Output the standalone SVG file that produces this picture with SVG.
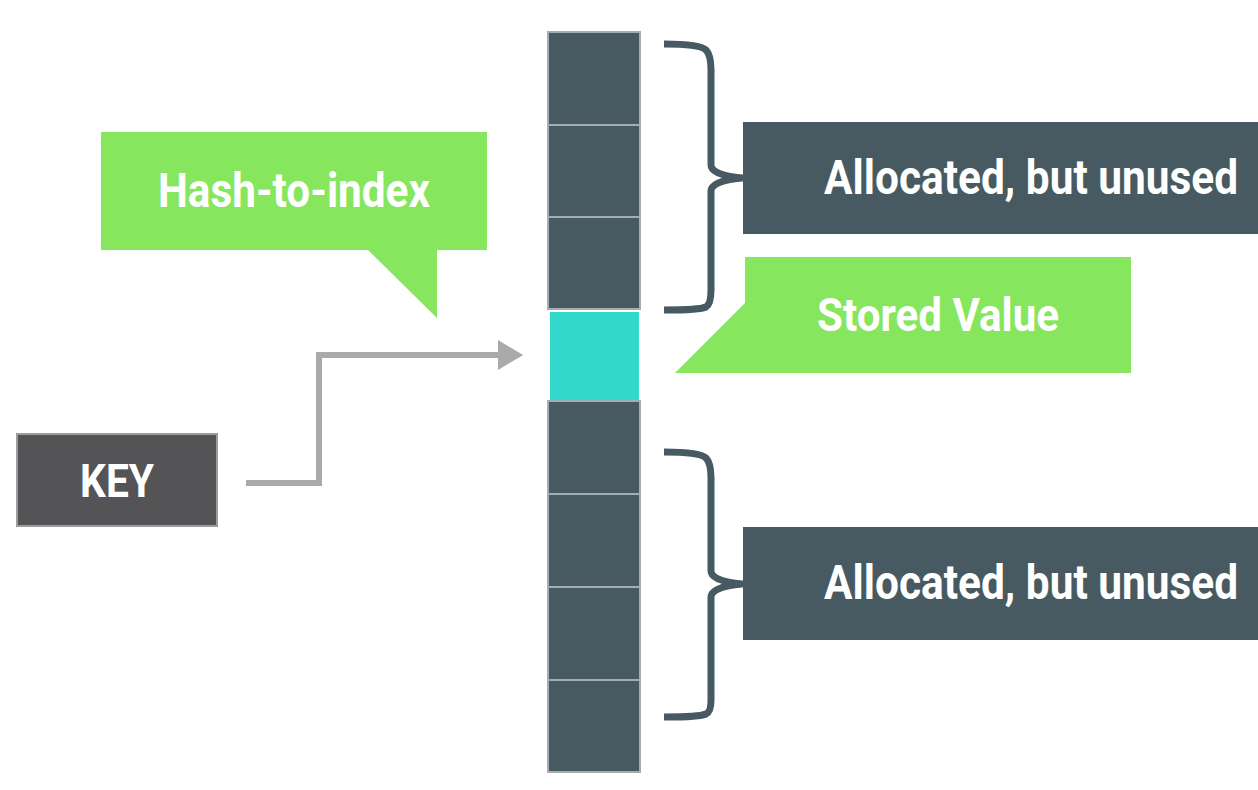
<svg xmlns="http://www.w3.org/2000/svg" width="1258" height="790" viewBox="0 0 1258 790">
<style>
.cell{fill:#475a61;stroke:#a3adb2;stroke-width:2}
.teal{fill:#33d9cb;stroke:#ffffff;stroke-width:2}
.brace{fill:none;stroke:#475a61;stroke-width:7;stroke-linejoin:round}
.lbl{fill:#475a61}
.green{fill:#86e65d}
.t{font-family:Roboto,"Liberation Sans",sans-serif;font-weight:bold;fill:#ffffff}
.conn{fill:none;stroke:#aaaaaa;stroke-width:6}
</style>
<defs>
<marker id="ah" markerWidth="5" markerHeight="5" refX="0" refY="2.5" orient="auto" markerUnits="strokeWidth">
<path d="M0,0 L4.2,2.5 L0,5 Z" fill="#aaaaaa"/>
</marker>
</defs>
<rect width="1258" height="790" fill="#ffffff"/>
<g id="array">
<rect class="cell" x="548" y="32" width="92" height="93"/>
<rect class="cell" x="548" y="125" width="92" height="92"/>
<rect class="cell" x="548" y="217" width="92" height="92"/>
<rect class="teal" x="549" y="311" width="91" height="90"/>
<rect class="cell" x="548" y="401" width="92" height="93"/>
<rect class="cell" x="548" y="494" width="92" height="93"/>
<rect class="cell" x="548" y="587" width="92" height="93"/>
<rect class="cell" x="548" y="680" width="92" height="92"/>
</g>
<g id="brace-top">
<path class="brace" d="M664,44 Q700,44 706,50 Q711,55 711,70 L711,165 Q711,175 742,178 Q711,181 711,191 L711,290 Q711,304 706,307 Q700,310 664,310"/>
</g>
<g id="brace-bottom">
<path class="brace" d="M664,452 Q700,452 706,458 Q711,463 711,478 L711,571 Q711,581 742,584 Q711,587 711,597 L711,700 Q711,712 706,714 Q700,717 664,717"/>
</g>
<g id="label-top">
<rect class="lbl" x="743" y="122" width="515" height="112"/>
<text class="t" transform="translate(824,194) scale(0.87,1)" x="0" y="0" font-size="49" textLength="476" lengthAdjust="spacingAndGlyphs">Allocated, but unused</text>
</g>
<g id="label-bottom">
<rect class="lbl" x="743" y="527" width="515" height="113"/>
<text class="t" transform="translate(824,599) scale(0.87,1)" x="0" y="0" font-size="49" textLength="476" lengthAdjust="spacingAndGlyphs">Allocated, but unused</text>
</g>
<g id="hash-to-index">
<polygon class="green" points="101,132 487,132 487,250 437,250 437,318 368,250 101,250"/>
<text class="t" x="158" y="207" font-size="48" textLength="272" lengthAdjust="spacingAndGlyphs">Hash-to-index</text>
</g>
<g id="stored-value">
<polygon class="green" points="745,257 1131,257 1131,373 675,373 745,303"/>
<text class="t" x="817" y="331" font-size="47" textLength="242" lengthAdjust="spacingAndGlyphs">Stored Value</text>
</g>
<g id="key">
<rect x="17" y="434" width="200" height="92" fill="#545457" stroke="#9c9c9c" stroke-width="2"/>
<text class="t" x="117" y="497" font-size="46" text-anchor="middle" textLength="74" lengthAdjust="spacingAndGlyphs">KEY</text>
</g>
<g id="connectors">
<path class="conn" d="M246,483 L319,483 L319,355 L498,355" marker-end="url(#ah)"/>
</g>
</svg>
